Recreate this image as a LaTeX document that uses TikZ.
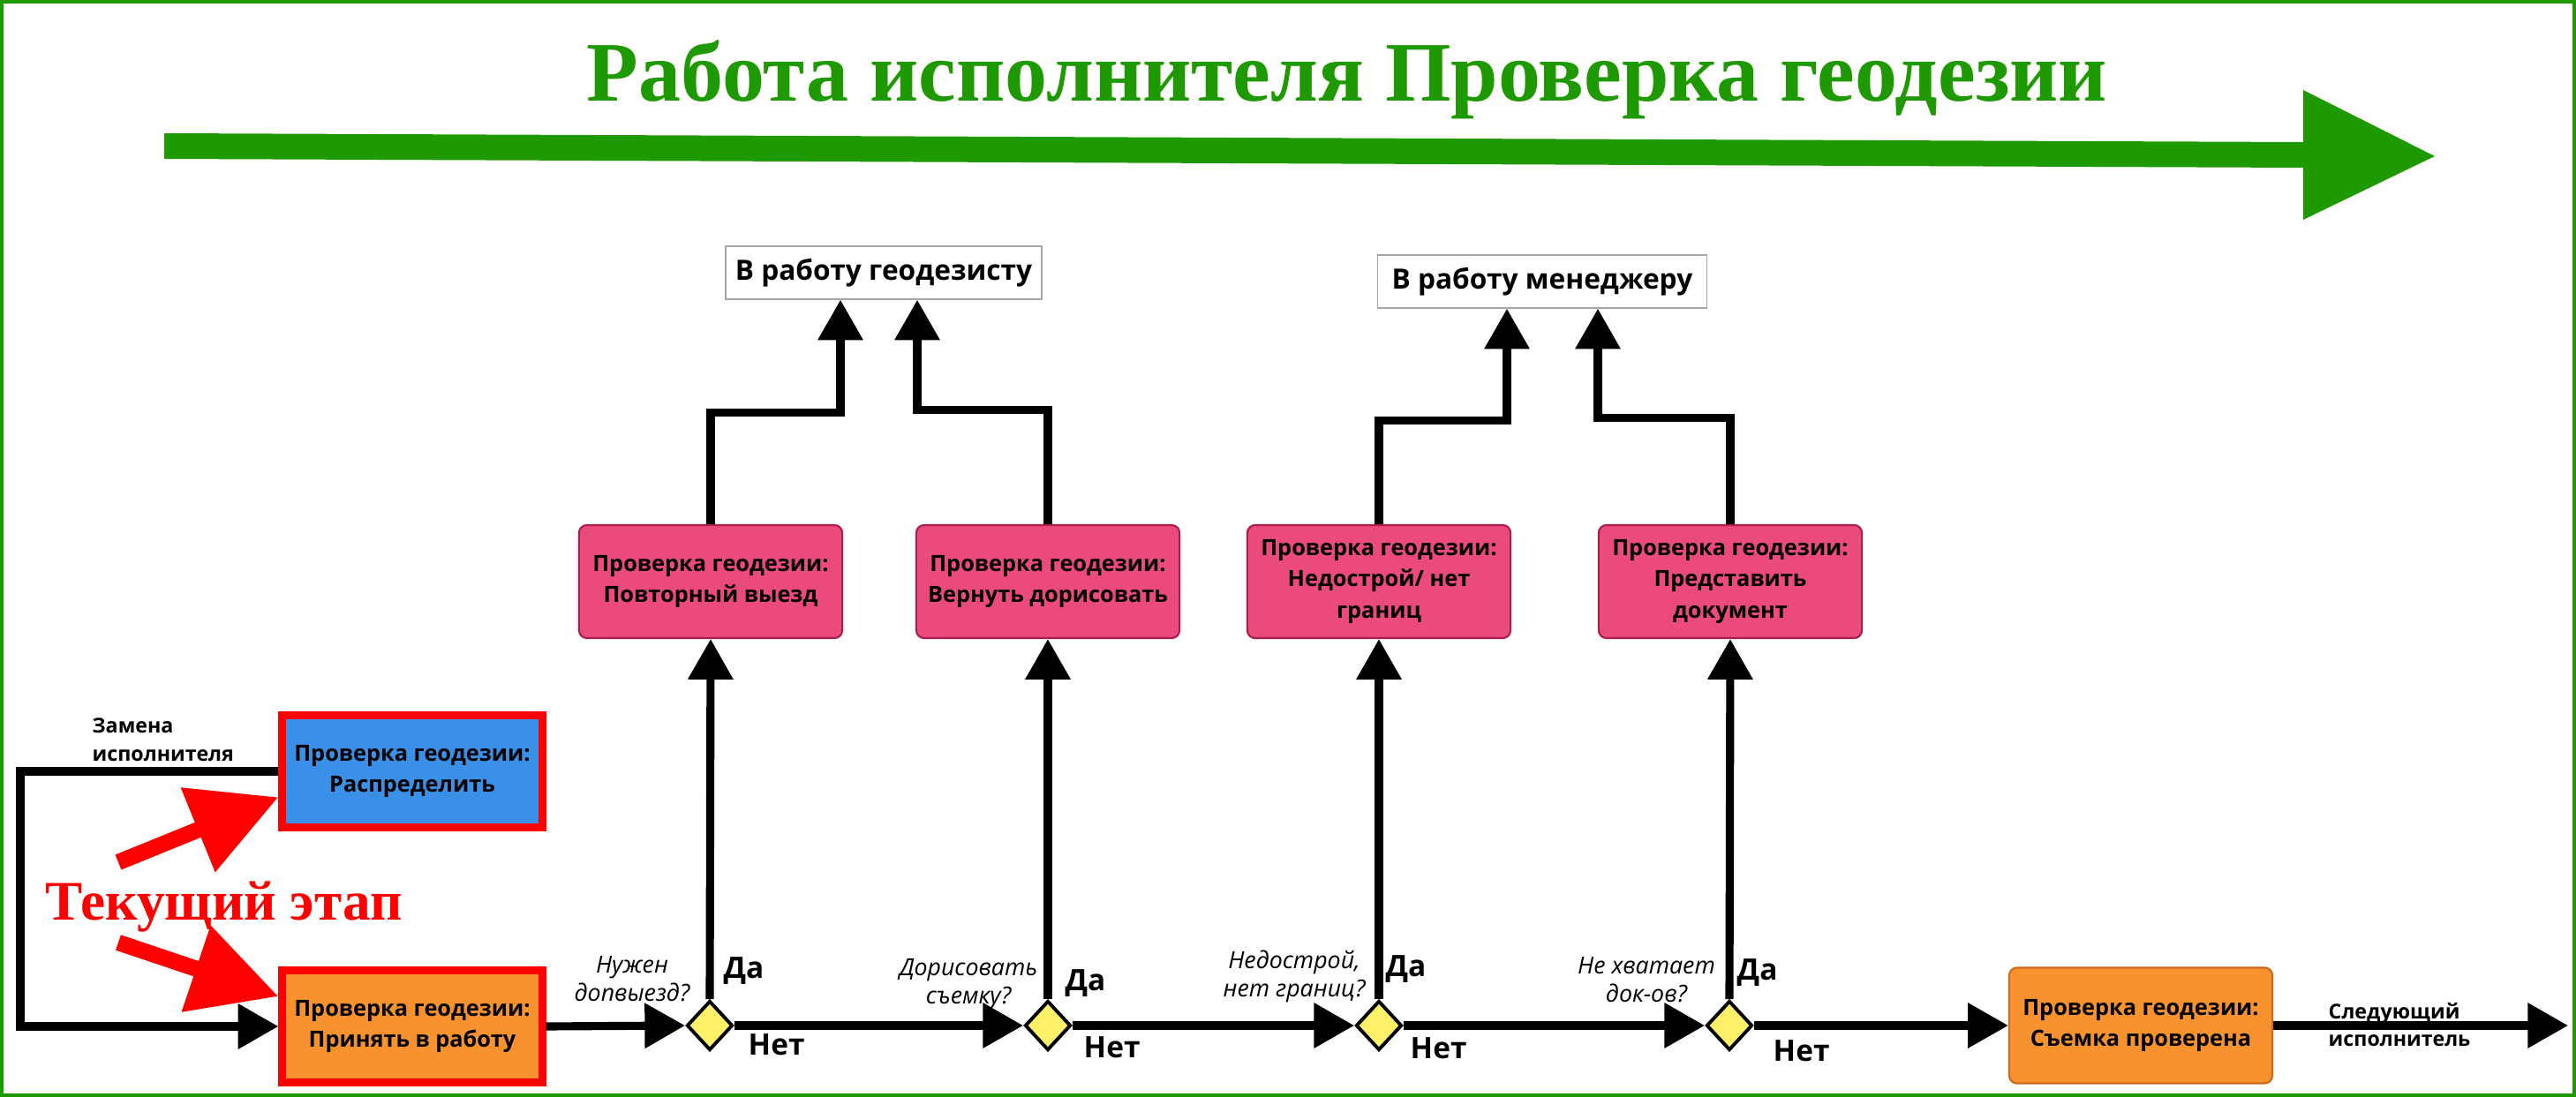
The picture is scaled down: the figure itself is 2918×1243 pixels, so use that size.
\documentclass[tikz,border=0pt]{standalone}
\usepackage{fontspec}
\setmainfont{Open Sans}
\newfontfamily\headserif{Liberation Serif}
\usetikzlibrary{calc}
\usetikzlibrary{arrows.meta}
\usetikzlibrary{shapes.geometric}

\definecolor{headgreen}{RGB}{31,153,0}
\definecolor{distblue}{RGB}{58,143,230}
\definecolor{stageorange}{RGB}{247,146,47}
\definecolor{stageedge}{RGB}{205,105,25}
\definecolor{errpink}{RGB}{235,74,124}
\definecolor{erredge}{RGB}{170,30,75}
\definecolor{askyellow}{RGB}{255,240,106}

\tikzset{
  stagebox/.style={rectangle, align=center, inner sep=0pt,
    minimum width=2.94cm, minimum height=1.27cm,
    font=\fontsize{7.2pt}{9.9pt}\selectfont\bfseries},
  curstage/.style={stagebox, draw=red, line width=2.55pt},
  donestage/.style={stagebox, draw=stageedge, fill=stageorange, line width=0.6pt,
    rounded corners=2.5pt, minimum width=2.98cm, minimum height=1.31cm},
  errbox/.style={stagebox, draw=erredge, fill=errpink, line width=0.6pt,
    rounded corners=2.5pt, minimum width=2.98cm, minimum height=1.28cm,
    font=\fontsize{7.2pt}{10.2pt}\selectfont\bfseries},
  targetbox/.style={rectangle, draw=black!35, fill=white, line width=0.4pt,
    minimum height=0.6cm, inner sep=0pt,
    font=\fontsize{9pt}{11pt}\selectfont\bfseries},
  decision/.style={diamond, draw, fill=askyellow, line width=1.1pt,
    minimum width=0.52cm, minimum height=0.56cm, inner sep=0pt},
  flowline/.style={line width=2.6pt, -{Triangle[length=13pt,width=14pt]}},
  curarrow/.style={red, line width=5.2pt, -{Triangle[length=28pt,width=28pt]}},
  anslabel/.style={inner sep=0pt, font=\fontsize{9.5pt}{11pt}\selectfont\bfseries},
  asklabel/.style={align=center, inner sep=0pt,
    font=\fontsize{7.6pt}{9.1pt}\selectfont\itshape},
  notelabel/.style={align=left, inner sep=0pt,
    font=\fontsize{6.6pt}{9pt}\selectfont\bfseries},
}

\begin{document}
\begin{tikzpicture}[x=0.01cm, y=-0.01cm]
    \useasboundingbox (0,0) rectangle (2918,1243);
    \draw[headgreen, line width=1.2pt] (2,2) rectangle (2916,1241);

    % heading and the big arrow under it
    \node[headgreen, anchor=base, inner sep=0pt,
          font=\headserif\bfseries\fontsize{27.3pt}{30pt}\selectfont]
        (head) at (1526,115) {Работа исполнителя Проверка геодезии};
    \fill[headgreen] (186,151) -- (2609,161) -- (2609,102) -- (2758,177)
        -- (2609,249) -- (2609,190) -- (186,180) -- cycle;

    % stages
    \node[curstage, fill=distblue] (distr) at (467,874) {Проверка геодезии:\\Распределить};
    \node[curstage, fill=stageorange] (accept) at (467,1163) {Проверка геодезии:\\Принять в работу};
    \node[donestage] (done) at (2425,1162) {Проверка геодезии:\\Съемка проверена};

    % checks
    \node[decision] (d1) at (804,1162) {};
    \node[decision] (d2) at (1187,1162) {};
    \node[decision] (d3) at (1562,1162) {};
    \node[decision] (d4) at (1959,1162) {};

    \node[errbox] (chk1) at (805,659) {Проверка геодезии:\\Повторный выезд};
    \node[errbox] (chk2) at (1187,659) {Проверка геодезии:\\Вернуть дорисовать};
    \node[errbox] (chk3) at (1562,659) {Проверка геодезии:\\Недострой/ нет\\границ};
    \node[errbox] (chk4) at (1960,659) {Проверка геодезии:\\Представить\\документ};

    \node[targetbox, minimum width=3.58cm] (geo) at (1001,309) {В работу геодезисту};
    \node[targetbox, minimum width=3.73cm] (mgr) at (1747,319) {В работу менеджеру};

    % main line
    \draw[flowline] (accept.east) -- (d1.west);
    \draw[flowline] (d1.east) -- (d2.west);
    \draw[flowline] (d2.east) -- (d3.west);
    \draw[flowline] (d3.east) -- (d4.west);
    \draw[flowline] (d4.east) -- (done.west);
    \coordinate (exit) at (2909,1162);
    \draw[flowline] (done.east) -- (exit);
    \foreach \i in {1,...,4} {
        \draw[flowline] (d\i.north) -- (chk\i.south);
    }

    % returns
    \draw[flowline] (chk1.north) -- ++(0,-126) -| ($(geo.south)+(-49,0)$);
    \draw[flowline] (chk2.north) -- ++(0,-129) -| ($(geo.south)+(38,0)$);
    \draw[flowline] (chk3.north) -- ++(0,-117) -| ($(mgr.south)+(-40,0)$);
    \draw[flowline] (chk4.north) -- ++(0,-120) -| ($(mgr.south)+(63,0)$);

    % change of performer
    \coordinate (loopx) at (23,877);
    \draw[flowline] (distr.west) -| (loopx |- accept.west) -- (accept.west);

    % current stage
    \coordinate (cur1) at (134,977);
    \coordinate (cur2) at (134,1068);
    \draw[curarrow] (cur1) -- ($(distr.west)!0.43!(distr.south west)$);
    \draw[curarrow] (cur2) -- ($(accept.west)!0.5!(accept.north west)$);
    \node[red, anchor=base west, inner sep=0pt,
          font=\headserif\bfseries\fontsize{18pt}{20pt}\selectfont]
        (curlbl) at (51,1042) {Текущий этап};

    % labels
    \node[anslabel, anchor=base west] (yes1) at (819,1108) {Да};
    \node[anslabel, anchor=base west] (yes2) at (1206,1122) {Да};
    \node[anslabel, anchor=base west] (yes3) at (1569,1106) {Да};
    \node[anslabel, anchor=base west] (yes4) at (1967,1110) {Да};
    \node[anslabel, anchor=base west] (no1) at (847,1195) {Нет};
    \node[anslabel, anchor=base west] (no2) at (1227,1198) {Нет};
    \node[anslabel, anchor=base west] (no3) at (1597,1199) {Нет};
    \node[anslabel, anchor=base west] (no4) at (2008,1202) {Нет};

    \node[asklabel] (q1) at (716,1109) {Нужен\\допвыезд?};
    \node[asklabel] (q2) at (1097,1115) {Дорисовать\\съемку?};
    \node[asklabel] (q3) at (1466,1106) {Недострой,\\нет границ?};
    \node[asklabel] (q4) at (1865,1110) {Не хватает\\док-ов?};

    \node[notelabel, anchor=west] (swap) at (104,838) {Замена\\исполнителя};
    \node[notelabel, anchor=west] (nextlbl) at (2637,1161) {Следующий\\исполнитель};
\end{tikzpicture}
\end{document}
